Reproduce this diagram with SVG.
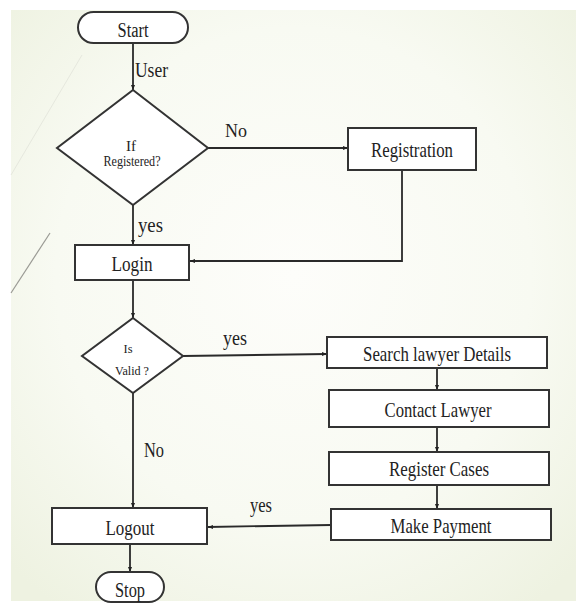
<svg xmlns="http://www.w3.org/2000/svg" width="576" height="603" viewBox="0 0 576 603">
<defs>
<radialGradient id="bg" cx="0.5" cy="0.45" r="0.7">
<stop offset="0" stop-color="#fdfdfa"/>
<stop offset="0.6" stop-color="#f8faf2"/>
<stop offset="1" stop-color="#eef2e1"/>
</radialGradient>
<marker id="ah" viewBox="0 0 10 10" refX="10" refY="5" markerWidth="5" markerHeight="5" orient="auto" markerUnits="userSpaceOnUse">
<path d="M0,1 L10,5 L0,9 Z" fill="#222"/>
</marker>
<style>
.box{fill:#ffffff;stroke:#333;stroke-width:2}
.t{font-family:"Liberation Serif","Times New Roman",serif;fill:#222;text-anchor:middle}
.l{font-family:"Liberation Serif","Times New Roman",serif;fill:#222}
.c{fill:none;stroke:#2a2a2a;stroke-width:1.8}
.a{marker-end:url(#ah)}
</style>
</defs>
<rect x="0" y="0" width="576" height="603" fill="#ffffff"/>
<rect x="11" y="10" width="565" height="591" fill="url(#bg)"/>
<line x1="11" y1="175" x2="82" y2="55" stroke="#e6e8de" stroke-width="1"/>
<line x1="11" y1="293" x2="50" y2="233" stroke="#9a9a94" stroke-width="1.2"/>

<g id="connectors">
<path class="c a" d="M133,43 L133,90"/>
<path class="c a" d="M208,148 L348,148"/>
<path class="c a" d="M133,205 L133,245"/>
<path class="c a" d="M402,170 L402,261 L190,261"/>
<path class="c a" d="M133,280 L133,318"/>
<path class="c a" d="M183,356 L327,354"/>
<path class="c a" d="M133,393 L133,508"/>
<path class="c a" d="M437,368 L437,390"/>
<path class="c a" d="M437,427 L437,452"/>
<path class="c a" d="M437,485 L437,509"/>
<path class="c a" d="M331,525 L208,527"/>
<path class="c a" d="M130,544 L130,572"/>
<text class="l" x="135" y="77" font-size="21" textLength="33" lengthAdjust="spacingAndGlyphs">User</text>
<text class="l" x="225" y="137" font-size="19" textLength="22" lengthAdjust="spacingAndGlyphs">No</text>
<text class="l" x="138" y="232" font-size="20" textLength="25" lengthAdjust="spacingAndGlyphs">yes</text>
<text class="l" x="223" y="345" font-size="20" textLength="24" lengthAdjust="spacingAndGlyphs">yes</text>
<text class="l" x="144" y="457" font-size="20" textLength="20" lengthAdjust="spacingAndGlyphs">No</text>
<text class="l" x="250" y="512" font-size="20" textLength="22" lengthAdjust="spacingAndGlyphs">yes</text>
</g>

<g id="start">
<rect class="box" x="78" y="12" width="110" height="31" rx="15.5"/>
<text class="t" x="133" y="37" font-size="20" textLength="31" lengthAdjust="spacingAndGlyphs">Start</text>
</g>
<g id="if-registered">
<polygon class="box" points="133,90 208,148 133,205 57,148"/>
<text class="t" x="131" y="151" font-size="14" textLength="10" lengthAdjust="spacingAndGlyphs">If</text>
<text class="t" x="132" y="166" font-size="14" textLength="57" lengthAdjust="spacingAndGlyphs">Registered?</text>
</g>
<g id="registration">
<rect class="box" x="348" y="128" width="128" height="42"/>
<text class="t" x="412" y="157" font-size="21" textLength="82" lengthAdjust="spacingAndGlyphs">Registration</text>
</g>
<g id="login">
<rect class="box" x="75" y="245" width="114" height="35"/>
<text class="t" x="132" y="271" font-size="22" textLength="41" lengthAdjust="spacingAndGlyphs">Login</text>
</g>
<g id="is-valid">
<polygon class="box" points="133,318 183,356 133,393 82,356"/>
<text class="t" x="128" y="353" font-size="13" textLength="9" lengthAdjust="spacingAndGlyphs">Is</text>
<text class="t" x="132" y="375" font-size="13" textLength="34" lengthAdjust="spacingAndGlyphs">Valid ?</text>
</g>
<g id="search">
<rect class="box" x="327" y="337" width="220" height="31"/>
<text class="t" x="437" y="361" font-size="21" textLength="148" lengthAdjust="spacingAndGlyphs">Search lawyer Details</text>
</g>
<g id="contact">
<rect class="box" x="329" y="390" width="220" height="37"/>
<text class="t" x="438" y="417" font-size="21" textLength="107" lengthAdjust="spacingAndGlyphs">Contact Lawyer</text>
</g>
<g id="register-cases">
<rect class="box" x="329" y="452" width="220" height="33"/>
<text class="t" x="439" y="476" font-size="21" textLength="100" lengthAdjust="spacingAndGlyphs">Register Cases</text>
</g>
<g id="payment">
<rect class="box" x="331" y="509" width="220" height="31"/>
<text class="t" x="441" y="533" font-size="21" textLength="101" lengthAdjust="spacingAndGlyphs">Make Payment</text>
</g>
<g id="logout">
<rect class="box" x="52" y="508" width="155" height="36"/>
<text class="t" x="130" y="535" font-size="22" textLength="49" lengthAdjust="spacingAndGlyphs">Logout</text>
</g>
<g id="stop">
<rect class="box" x="96" y="572" width="68" height="30" rx="15"/>
<text class="t" x="130" y="597" font-size="21" textLength="30" lengthAdjust="spacingAndGlyphs">Stop</text>
</g>
</svg>
